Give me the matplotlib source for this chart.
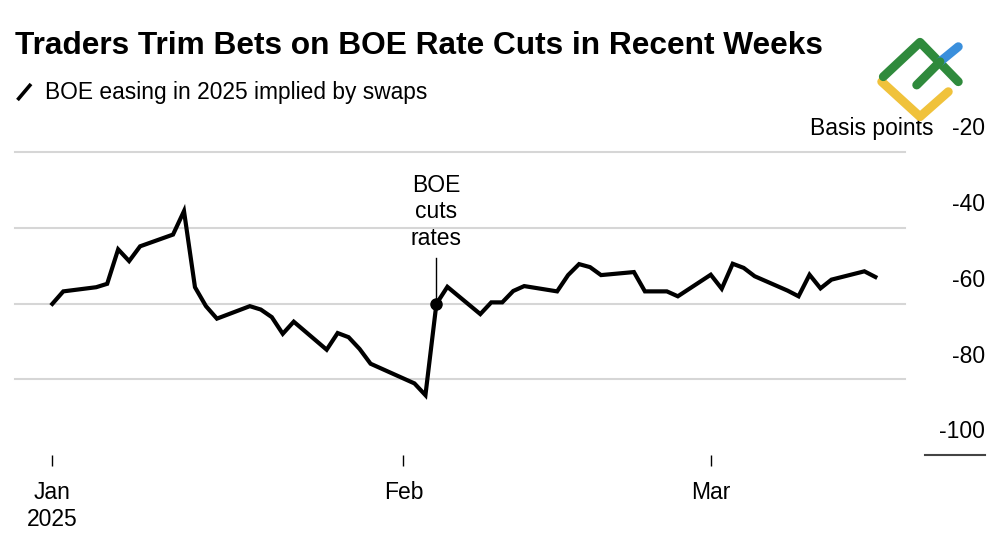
#!/usr/bin/env python3
"""Traders trim bets on BOE rate cuts - line chart of implied 2025 easing."""

import matplotlib

matplotlib.use("Agg")
import matplotlib.pyplot as plt
import matplotlib.dates as mdates
import pandas as pd
from matplotlib.lines import Line2D
from matplotlib.transforms import blended_transform_factory

plt.rcParams["font.family"] = ["Liberation Sans", "DejaVu Sans"]

# BOE easing in 2025 implied by swaps (basis points), business days
dates = [
    "2025-01-02", "2025-01-03", "2025-01-06", "2025-01-07", "2025-01-08",
    "2025-01-09", "2025-01-10", "2025-01-13", "2025-01-14", "2025-01-15",
    "2025-01-16", "2025-01-17", "2025-01-20", "2025-01-21", "2025-01-22",
    "2025-01-23", "2025-01-24", "2025-01-27", "2025-01-28", "2025-01-29",
    "2025-01-30", "2025-01-31", "2025-02-03", "2025-02-04", "2025-02-05",
    "2025-02-06", "2025-02-07", "2025-02-10", "2025-02-11", "2025-02-12",
    "2025-02-13", "2025-02-14", "2025-02-17", "2025-02-18", "2025-02-19",
    "2025-02-20", "2025-02-21", "2025-02-24", "2025-02-25", "2025-02-26",
    "2025-02-27", "2025-02-28", "2025-03-03", "2025-03-04", "2025-03-05",
    "2025-03-06", "2025-03-07", "2025-03-10", "2025-03-11", "2025-03-12",
    "2025-03-13", "2025-03-14", "2025-03-17", "2025-03-18",
]
easing_bp = [
    -60.1, -56.8, -55.7, -54.8, -45.7,
    -48.8, -44.9, -41.8, -35.6, -55.7,
    -60.7, -64.0, -60.7, -61.6, -63.6,
    -68.0, -64.8, -72.2, -67.8, -68.9,
    -72.0, -75.9, -79.8, -81.1, -84.2,
    -60.1, -55.6, -62.8, -59.7, -59.7,
    -56.7, -55.4, -56.8, -52.5, -49.6,
    -50.4, -52.5, -51.7, -56.8, -56.8,
    -56.8, -58.1, -52.4, -56.1, -49.5,
    -50.6, -52.8, -56.6, -58.1, -52.4,
    -56.0, -53.7, -51.5, -53.0,
]

event_date = "2025-02-06"
event_label = "BOE\ncuts\nrates"

# first trading day of each month carries the tick
tick_dates = ["2025-01-02", "2025-02-03", "2025-03-03"]
tick_labels = ["Jan\n2025", "Feb", "Mar"]

y_ticks = [-20, -40, -60, -80, -100]
y_tick_labels = ["-20", "-40", "-60", "-80", "-100"]

TITLE = "Traders Trim Bets on BOE Rate Cuts in Recent Weeks"
SUBTITLE = "BOE easing in 2025 implied by swaps"

GRID = "#d6d6d6"
INK = "#000000"
AXIS_FS = 16.5


def main():
    fig = plt.figure(figsize=(10, 5.45), dpi=100)
    ax = fig.add_axes([0.015, 90 / 545, 0.89, 303 / 545])

    x = pd.to_datetime(dates)
    ax.plot(x, easing_bp, color=INK, lw=3.0, solid_joinstyle="miter", zorder=3)

    # axis ranges: first point sits ~37px in from the left edge
    x0 = mdates.date2num(pd.Timestamp(dates[0]))
    ax.set_xlim(x0 - 3.4, x0 + 77.7)
    ax.set_ylim(-100, -20)

    for v in y_ticks[:-1]:
        ax.axhline(v, color=GRID, lw=1.5, zorder=1, clip_on=False)

    ax.set_yticks([])
    ax.set_xticks(pd.to_datetime(tick_dates))
    ax.set_xticklabels(tick_labels, fontsize=AXIS_FS, linespacing=1.2)
    ax.tick_params(axis="x", length=8, width=1, color=INK, pad=11)
    for s in ax.spines.values():
        s.set_visible(False)

    # y labels on the right, sitting above their gridlines
    tr = blended_transform_factory(fig.transFigure, ax.transData)
    for v, lab in zip(y_ticks, y_tick_labels):
        ax.text(0.985, v + 6.1, lab, transform=tr, ha="right", va="center",
                fontsize=AXIS_FS, color=INK)
    ax.text(0.933, y_ticks[0] + 6.1, "Basis points", transform=tr, ha="right",
            va="center", fontsize=AXIS_FS, color=INK)
    fig.add_artist(Line2D([0.925, 0.985], [90 / 545, 90 / 545],
                          color="#444444", lw=1.5))

    # event marker and annotation
    ev = pd.Timestamp(event_date)
    ev_val = easing_bp[dates.index(event_date)]
    ax.plot([ev], [ev_val], "o", color=INK, ms=8, zorder=4)
    ax.plot([ev, ev], [ev_val, ev_val + 12], color=INK, lw=1.0, zorder=2)
    ax.text(ev, ev_val + 14.3, event_label, ha="center", va="bottom",
            fontsize=AXIS_FS, linespacing=1.2, color=INK)

    # title and subtitle
    fig.text(0.015, 1 - 46 / 545, TITLE, fontsize=22.8, fontweight="bold",
             ha="left", va="center", color=INK)
    fig.text(0.045, 1 - 92 / 545, SUBTITLE, fontsize=16.4, ha="left",
             va="center", color=INK)
    fig.add_artist(Line2D([0.0175, 0.031], [1 - 100 / 545, 1 - 84 / 545],
                          color=INK, lw=2.6, solid_capstyle="butt"))

    # watermark logo, top right
    def stroke(xs, ys, c):
        fig.add_artist(Line2D([v / 1000 for v in xs], [1 - v / 545 for v in ys],
                              color=c, lw=6.4, solid_capstyle="round",
                              solid_joinstyle="round"))

    stroke([881.7, 920, 948.3], [81.7, 116.7, 91.7], "#f0c23b")
    stroke([883.3, 920, 958.3], [76.7, 42.3, 81.7], "#2f8a3c")
    stroke([940, 958.3], [61.7, 46.7], "#3a8fdc")
    stroke([916.7, 940], [85, 61.7], "#2f8a3c")

    fig.savefig("out.png", dpi=100)
    plt.close(fig)


if __name__ == "__main__":
    main()
